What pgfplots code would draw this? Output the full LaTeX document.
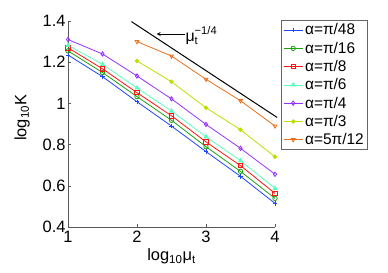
\documentclass[border=0pt]{standalone}
\usepackage{pgfplots}
\pgfplotsset{compat=1.18}
\usepackage{fontspec}
\setmainfont{Liberation Sans}
\definecolor{cA}{RGB}{30,70,255}
\definecolor{cB}{RGB}{30,160,20}
\definecolor{cC}{RGB}{255,20,20}
\definecolor{cD}{RGB}{90,255,190}
\definecolor{cE}{RGB}{150,50,255}
\definecolor{cF}{RGB}{185,225,0}
\definecolor{cG}{RGB}{235,110,25}
\begin{document}
\begin{tikzpicture}
\useasboundingbox (0,0) rectangle (388bp,273bp);
\begin{axis}[
  at={(68bp,46bp)}, anchor=south west,
  scale only axis, width=207bp, height=206bp,
  xmin=1, xmax=4, ymin=0.4, ymax=1.4,
  xtick={1,2,3,4}, ytick={0.4,0.6,0.8,1,1.2,1.4},
  axis x line*=bottom, axis y line*=left,
  axis line style={black!65, line width=0.6pt},
  tick style={black!65, line width=0.5pt},
  tick align=inside, major tick length=3bp,
  font=\fontsize{16.5}{19}\selectfont,
  /pgf/number format/assume math mode=true,
  yticklabel style={/pgf/number format/fixed, /pgf/number format/precision=1, xshift=1bp},
  xticklabel style={yshift=-0.5bp},
  clip=false,
  xlabel={log\textsubscript{10}μ\textsubscript{t}},
  ylabel={log\textsubscript{10}K},
  xlabel style={at={(axis description cs:0.5,-0.165)}, anchor=base},
  ylabel style={at={(axis description cs:-0.222,0.53)}, anchor=center},
  every axis plot/.append style={line width=0.8bp, mark size=2.2bp},
  legend image code/.code={\draw[mark repeat=2,mark phase=2] plot coordinates {(0bp,0bp) (9.5bp,0bp) (19bp,0bp)};},
  legend style={at={(axis description cs:1.029,1.005)}, anchor=north west,
    draw=black!60, line width=0.6pt, font=\fontsize{15.5}{18}\selectfont,
    row sep=1.6bp, inner xsep=2bp, inner ysep=1.5bp},
  legend cell align=left,
]
\addplot[cA, mark=+, mark options={cA}] coordinates {(1,1.235) (1.5,1.13) (2,1.008) (2.5,0.89) (3,0.766) (3.5,0.646) (4,0.515)};
\addlegendentry{α=π/48}
\addplot[cB, mark=o, mark options={cB}] coordinates {(1,1.255) (1.5,1.15) (2,1.033) (2.5,0.918) (3,0.79) (3.5,0.67) (4,0.539)};
\addlegendentry{α=π/16}
\addplot[cC, mark=square, mark options={cC}] coordinates {(1,1.27) (1.5,1.168) (2,1.052) (2.5,0.94) (3,0.813) (3.5,0.698) (4,0.563)};
\addlegendentry{α=π/8}
\addplot[cD, mark=triangle*, mark options={cD}] coordinates {(1,1.282) (1.5,1.19) (2,1.075) (2.5,0.963) (3,0.838) (3.5,0.722) (4,0.588)};
\addlegendentry{α=π/6}
\addplot[cE, mark=diamond, mark options={cE}] coordinates {(1,1.31) (1.5,1.24) (2,1.133) (2.5,1.022) (3,0.898) (3.5,0.782) (4,0.656)};
\addlegendentry{α=π/4}
\addplot[cF, mark=*, mark size=1.8bp, mark options={cF}] coordinates {(2,1.206) (2.5,1.105) (3,0.979) (3.5,0.872) (4,0.741)};
\addlegendentry{α=π/3}
\addplot[cG, mark=triangle, mark options={cG, rotate=180}] coordinates {(2,1.30) (2.5,1.23) (3,1.117) (3.5,1.013) (4,0.89)};
\addlegendentry{α=5π/12}
\addplot[black, line width=1bp, forget plot] coordinates {(1.92,1.397) (4.03,0.932)};
\draw[-stealth, black, line width=0.8bp] (axis cs:2.69,1.337) -- (axis cs:2.285,1.337);
\node[anchor=west, inner sep=0pt, font=\fontsize{16}{18}\selectfont] at (axis cs:2.70,1.33) {μ\rlap{\raisebox{1bp}{\textsuperscript{−1/4}}}\textsubscript{t}};
\end{axis}
\end{tikzpicture}
\end{document}
